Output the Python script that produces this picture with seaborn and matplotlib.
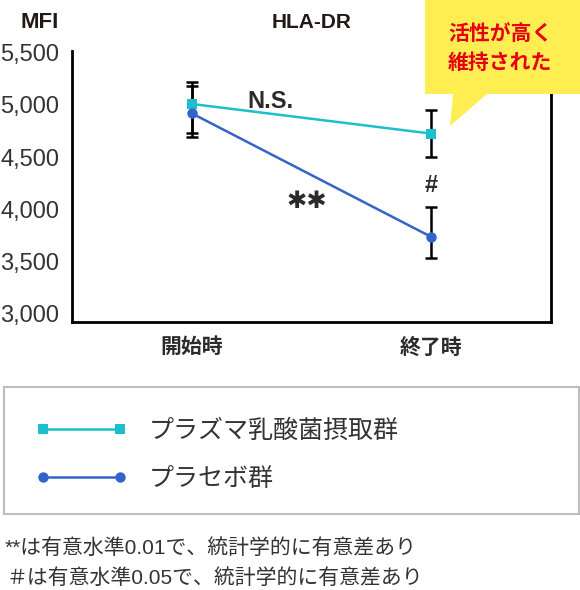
import matplotlib
matplotlib.use("Agg")
import matplotlib.pyplot as plt
from matplotlib.lines import Line2D
from matplotlib.patches import Polygon, Rectangle
import numpy as np
import pandas as pd
import seaborn as sns

# values (MFI)
timepoints = ["開始時", "終了時"]
groups = ["プラズマ乳酸菌摂取群", "プラセボ群"]
plasma_mean = [5010, 4725]
plasma_low = [4733, 4502]
plasma_high = [5221, 4951]
placebo_mean = [4920, 3732]
placebo_low = [4689, 3534]
placebo_high = [5182, 4021]
yticks = [3000, 3500, 4000, 4500, 5000, 5500]

CYAN = "#1CBFCB"
BLUE = "#3364CA"
TXT = "#2b2b2b"
W, H = 580, 590

sns.set_style("white")
plt.rcParams["font.family"] = ["Liberation Sans", "Noto Sans CJK JP"]


def fx(px):
    return px / W


def fy(py):
    return 1 - py / H


df = pd.DataFrame({
    "pos": [0, 1, 0, 1],
    "mfi": plasma_mean + placebo_mean,
    "group": [groups[0]] * 2 + [groups[1]] * 2,
})

fig = plt.figure(figsize=(W / 100, H / 100), dpi=100)
ax = fig.add_axes([fx(72), fy(322), fx(551) - fx(72), fy(51) - fy(322)])

# error bars underneath the lines
for mean, low, high in [(plasma_mean, plasma_low, plasma_high),
                        (placebo_mean, placebo_low, placebo_high)]:
    mean = np.array(mean)
    yerr = [mean - np.array(low), np.array(high) - mean]
    ax.errorbar([0, 1], mean, yerr=yerr, fmt="none", ecolor="black",
                elinewidth=1.8, capsize=4, capthick=1.8, zorder=2)

sns.lineplot(data=df, x="pos", y="mfi", hue="group", style="group",
             palette={groups[0]: CYAN, groups[1]: BLUE},
             markers={groups[0]: "s", groups[1]: "o"}, dashes=False,
             markersize=7.5, markeredgewidth=0, linewidth=1.8,
             legend=False, ax=ax, zorder=3)

ax.set_xlim(-0.5, 1.5)
ax.set_ylim(2914, 5519)
ax.set_xticks([0, 1])
ax.set_xticklabels(timepoints, fontsize=15, fontweight="bold", color=TXT)
ax.set_yticks(yticks)
ax.set_yticklabels([f"{v:,}" for v in yticks], fontsize=17, color="#333333")
ax.tick_params(axis="y", length=0, pad=9)
ax.tick_params(axis="x", length=0, pad=11)
ax.set_xlabel("")
ax.set_ylabel("")
for side in ["left", "right", "bottom"]:
    ax.spines[side].set_linewidth(2)
    ax.spines[side].set_color("black")
ax.spines["top"].set_visible(False)

# significance marks
ax.text(0.33, 5030, "N.S.", fontsize=17, fontweight="bold", color=TXT,
        ha="center", va="center")
ax.text(0.48, 4080, "✱✱", fontsize=17.5, color=TXT,
        ha="center", va="center", family=["DejaVu Sans"])
ax.text(1, 4225, "#", fontsize=17, fontweight="bold", color=TXT,
        ha="center", va="center")

fig.text(fx(40), fy(23), "MFI", fontsize=16, fontweight="bold", color="#231815",
         ha="center", va="center")
fig.text(fx(312), fy(23), "HLA-DR", fontsize=15, fontweight="bold", color="#231815",
         ha="center", va="center")

# yellow speech bubble
bubble = [(425, 0), (580, 0), (580, 94), (487, 94), (450, 126), (453, 94), (425, 94)]
fig.add_artist(Polygon([(fx(x), fy(y)) for x, y in bubble], closed=True,
                       facecolor="#FFEE52", edgecolor="none",
                       transform=fig.transFigure, zorder=5))
fig.text(fx(500), fy(49), "活性が高く\n維持された", fontsize=15, fontweight="bold",
         color="#E60012", ha="center", va="center", linespacing=1.5, zorder=6)

# legend box
fig.add_artist(Rectangle((fx(4), fy(514)), fx(579) - fx(4), fy(387) - fy(514),
                         transform=fig.transFigure, facecolor="none",
                         edgecolor="#bdbdbd", linewidth=1.5))
handles = [
    Line2D([], [], color=CYAN, marker="s", markersize=7.5, markeredgewidth=0, linewidth=1.8),
    Line2D([], [], color=BLUE, marker="o", markersize=7.5, markeredgewidth=0, linewidth=1.8),
]
fig.legend(handles, groups, loc="upper left", bbox_to_anchor=(fx(35), fy(419)),
           frameon=False, numpoints=2, handlelength=3.7, handletextpad=0.85,
           labelspacing=0.95, borderpad=0, borderaxespad=0,
           prop={"size": 18}, labelcolor="#333333")

fig.text(fx(5), fy(548), "**は有意水準0.01で、統計学的に有意差あり", fontsize=15,
         color="#333333", ha="left", va="center")
fig.text(fx(6), fy(578), "＃は有意水準0.05で、統計学的に有意差あり", fontsize=15,
         color="#333333", ha="left", va="center")

fig.savefig("out.png", dpi=100)
